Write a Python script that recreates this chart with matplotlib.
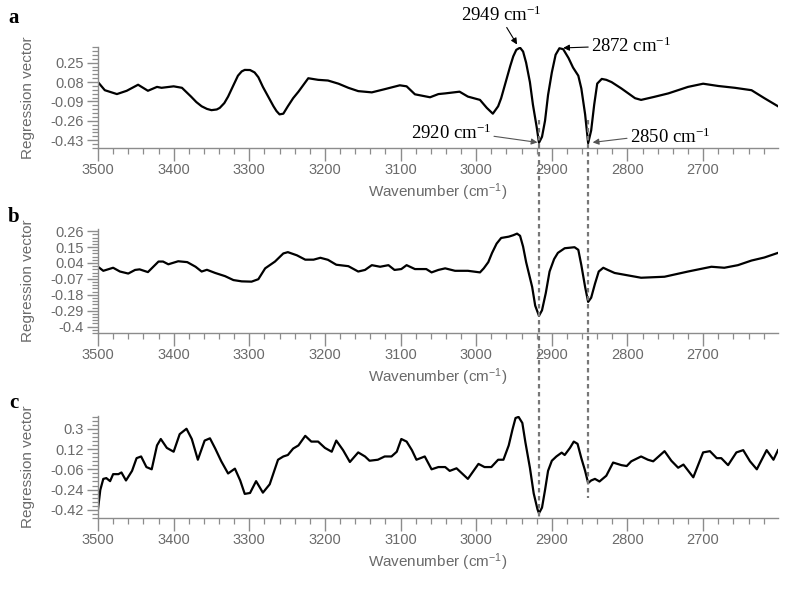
import numpy as np
import matplotlib
matplotlib.use('Agg')
import matplotlib.pyplot as plt
from matplotlib.lines import Line2D
from matplotlib.transforms import blended_transform_factory

plt.rcParams['font.family'] = ['Liberation Sans', 'DejaVu Sans']

# ---- data ----
wn_a = [3500, 3491, 3475, 3462, 3447, 3434, 3422, 3416, 3400, 3389, 3377, 3370, 3363, 3356,
        3350, 3343, 3339, 3333, 3328, 3321, 3315, 3310, 3306, 3299, 3293, 3288, 3282, 3275,
        3268, 3264, 3260, 3255, 3249, 3242, 3235, 3222, 3209, 3196, 3182,
        3169, 3156, 3138, 3121, 3101, 3092, 3081, 3061, 3050, 3041, 3022, 3011, 2995, 2986,
        2978, 2971, 2967, 2961, 2955, 2951, 2947, 2942, 2938, 2934, 2929, 2925, 2920, 2917,
        2913, 2909, 2905, 2900, 2895, 2890, 2885, 2878, 2872, 2865, 2861, 2856, 2852, 2848,
        2844, 2840, 2834, 2828, 2821, 2808, 2790, 2782, 2765, 2746, 2720, 2700, 2680, 2658,
        2636, 2619, 2601]
val_a = [0.08, 0.009, -0.025, 0.004, 0.057, 0.004, 0.038, 0.03, 0.043, 0.03, -0.047, -0.095,
         -0.132, -0.155, -0.166, -0.16, -0.146, -0.104, -0.047, 0.052, 0.136, 0.174, 0.187,
         0.186, 0.165, 0.123, 0.038, -0.047, -0.132, -0.174, -0.203, -0.197, -0.132, -0.061,
         -0.004, 0.114, 0.10, 0.094, 0.066, 0.03, 0.001, -0.01, 0.018, 0.052, 0.043, -0.027,
         -0.053, -0.025, -0.019, -0.004, -0.047, -0.076, -0.146, -0.197, -0.132, -0.061, 0.08,
         0.221, 0.306, 0.363, 0.382, 0.348, 0.25, 0.08, -0.118, -0.316, -0.452, -0.40, -0.259,
         -0.033, 0.165, 0.32, 0.377, 0.369, 0.292, 0.208, 0.136, 0.024, -0.203, -0.455, -0.344,
         -0.118, 0.067, 0.108, 0.10, 0.08, 0.024, -0.061, -0.076, -0.05, -0.019, 0.038, 0.066,
         0.046, 0.03, 0.009, -0.061, -0.132]

wn_b = [3500, 3493, 3480, 3471, 3460, 3451, 3445, 3434, 3420, 3414, 3407, 3394, 3382, 3371,
        3363, 3356, 3345, 3332, 3321, 3310, 3297, 3288, 3279, 3266, 3255, 3249, 3237, 3226,
        3215, 3206, 3196, 3185, 3169, 3156, 3147, 3138, 3127, 3116, 3108, 3099, 3092, 3081,
        3066, 3059, 3050, 3041, 3028, 3011, 2995, 2990, 2984, 2979, 2973, 2967, 2957, 2951,
        2946, 2942, 2938, 2934, 2926, 2922, 2917, 2913, 2908, 2903, 2897, 2892, 2883, 2870,
        2865, 2861, 2856, 2852, 2848, 2843, 2838, 2832, 2826, 2817, 2799, 2782, 2751, 2720,
        2689, 2672, 2654, 2636, 2619, 2601]
val_b = [0.014, -0.014, 0.007, -0.019, -0.033, -0.008, -0.004, -0.023, 0.05, 0.05, 0.031,
         0.052, 0.046, 0.014, -0.019, -0.007, -0.029, -0.051, -0.078, -0.087, -0.089, -0.072,
         0.003, 0.05, 0.106, 0.115, 0.093, 0.063, 0.063, 0.076, 0.062, 0.028, 0.018, -0.019,
         -0.008, 0.025, 0.014, 0.025, -0.008, -0.002, 0.025, -0.002, -0.002, -0.025, -0.008,
         0.003, -0.014, -0.014, -0.025, 0.003, 0.046, 0.11, 0.174, 0.213, 0.222, 0.232, 0.243,
         0.228, 0.153, 0.046, -0.126, -0.255, -0.325, -0.287, -0.168, -0.019, 0.067, 0.11,
         0.142, 0.149, 0.131, 0.025, -0.126, -0.229, -0.2, -0.104, -0.019, 0.007, -0.008,
         -0.029, -0.046, -0.062, -0.055, -0.019, 0.014, 0.007, 0.025, 0.057, 0.078, 0.11]

wn_c = [3500, 3497, 3493, 3489, 3484, 3480, 3473, 3469, 3463, 3455, 3449, 3443, 3436, 3429,
        3422, 3417, 3409, 3400, 3392, 3383, 3376, 3368, 3359, 3352, 3345, 3337, 3328, 3319,
        3312, 3306, 3299, 3291, 3282, 3273, 3262, 3255, 3249, 3242, 3235, 3226, 3218, 3209,
        3200, 3191, 3185, 3176, 3167, 3156, 3147, 3141, 3130, 3121, 3112, 3105, 3099, 3092,
        3085, 3079, 3068, 3059, 3050, 3041, 3035, 3026, 3011, 2997, 2989, 2980, 2971, 2964,
        2957, 2952, 2948, 2944, 2939, 2935, 2929, 2924, 2919, 2917, 2913, 2909, 2905, 2900,
        2894, 2887, 2883, 2876, 2871, 2866, 2861, 2856, 2852, 2848, 2843, 2837, 2828, 2819,
        2808, 2801, 2795, 2782, 2773, 2766, 2751, 2742, 2733, 2726, 2713, 2700, 2691, 2682,
        2676, 2667, 2656, 2647, 2638, 2629, 2616, 2607, 2601]
val_c = [-0.414, -0.244, -0.145, -0.138, -0.165, -0.103, -0.103, -0.088, -0.159, -0.074,
         0.039, 0.054, -0.04, -0.06, 0.152, 0.209, 0.13, 0.096, 0.252, 0.3, 0.209, 0.025,
         0.195, 0.215, 0.124, 0.011, -0.097, -0.054, -0.159, -0.278, -0.27, -0.165, -0.267,
         -0.193, 0.025, 0.054, 0.067, 0.124, 0.152, 0.237, 0.186, 0.186, 0.13, 0.096, 0.195,
         0.11, 0.005, 0.09, 0.054, 0.016, 0.025, 0.054, 0.054, 0.096, 0.209, 0.186, 0.11,
         0.025, 0.054, -0.06, -0.04, -0.04, -0.074, -0.051, -0.145, -0.012, -0.04, -0.04,
         0.025, 0.025, 0.152, 0.294, 0.395, 0.405, 0.351, 0.181, -0.046, -0.273, -0.414,
         -0.45, -0.40, -0.244, -0.074, 0.016, 0.054, 0.088, 0.067, 0.13, 0.186, 0.166, 0.039,
         -0.074, -0.182, -0.159, -0.145, -0.168, -0.117, 0.0, -0.023, -0.031, 0.011, 0.054,
         0.025, 0.011, 0.101, 0.016, -0.046, -0.018, -0.131, 0.09, 0.101, 0.039, 0.039, -0.023,
         0.09, 0.11, 0.011, -0.06, 0.11, 0.025, 0.11]

yt_a = [-0.43, -0.26, -0.09, 0.08, 0.25]
yt_b = [-0.4, -0.29, -0.18, -0.07, 0.04, 0.15, 0.26]
yt_c = [-0.42, -0.24, -0.06, 0.12, 0.3]
xt = [3500, 3400, 3300, 3200, 3100, 3000, 2900, 2800, 2700]
dash_x = [2917, 2852]

grey = '#8c8c8c'
lab = '#6a6a6a'

fig = plt.figure(figsize=(7.87, 5.89), dpi=100)
W, H = 787.0, 589.0

def panel(top, bottom, wn, val, yt, step, ylim, letter, letter_y):
    ax = fig.add_axes([98 / W, 1 - bottom / H, 680 / W, (bottom - top) / H])
    ax.plot(wn, val, color='black', lw=1.6, solid_joinstyle='round')
    ax.set_xlim(3500, 2601)
    ax.set_ylim(*ylim)
    for s in ['top', 'right']:
        ax.spines[s].set_visible(False)
    for s in ['left', 'bottom']:
        ax.spines[s].set_color(grey)
        ax.spines[s].set_linewidth(1.0)
    ax.set_xticks(xt)
    ax.set_xticks(np.arange(3500, 2600, -20), minor=True)
    ax.set_yticks(yt)
    ax.set_yticklabels([('%g' % v) for v in yt])
    ax.set_yticks(np.arange(yt[0] - step / 5 * 2, ylim[1], step / 5), minor=True)
    ax.tick_params(axis='both', which='major', direction='out', color=grey,
                   labelcolor=lab, labelsize=10.5, width=1.0)
    ax.tick_params(axis='x', which='major', length=9, pad=2)
    ax.tick_params(axis='y', which='major', length=8, pad=2)
    ax.tick_params(axis='both', which='minor', direction='out', color=grey,
                   length=4.5, width=0.9)
    ax.set_xlabel('Wavenumber (cm$\\mathregular{^{-1}}$)', color=lab, fontsize=11, labelpad=3)
    ax.set_ylabel('Regression vector', color=lab, fontsize=11, labelpad=3)
    ax.yaxis.set_label_coords(-0.092, 0.5)
    fig.text(14 / W, 1 - letter_y / H, letter, family='Liberation Serif',
             fontweight='bold', fontsize=15, ha='center', va='baseline')
    return ax

ax_a = panel(47, 148, wn_a, val_a, yt_a, 0.17, (-0.468, 0.388), 'a', 23)
ax_b = panel(229, 333, wn_b, val_b, yt_b, 0.11, (-0.397, 0.275), 'b', 222)
ax_c = panel(416, 518, wn_c, val_c, yt_c, 0.18, (-0.457, 0.413), 'c', 408)

# dashed guide lines through all panels
tr = blended_transform_factory(ax_a.transData, fig.transFigure)
fig.add_artist(Line2D([dash_x[0], dash_x[0]], [1 - 120 / H, 1 - 518 / H], transform=tr,
                      color='#777777', lw=1.6, ls=(0, (2, 1.6))))
fig.add_artist(Line2D([dash_x[1], dash_x[1]], [1 - 120 / H, 1 - 498 / H], transform=tr,
                      color='#777777', lw=1.6, ls=(0, (2, 1.6))))

# peak annotations
serif = 'Liberation Serif'
arr = dict(arrowstyle='-|>', color='black', lw=0.8, mutation_scale=9, shrinkA=0, shrinkB=0)
arr2 = dict(arrowstyle='-|>', color='#555555', lw=0.8, mutation_scale=9, shrinkA=0, shrinkB=0)
ax_a.annotate('2949 cm$\\mathregular{^{-1}}$', xy=(2946, 0.41), xytext=(501, H - 15),
              textcoords='figure pixels', ha='center', va='center', family=serif,
              fontsize=13.5, arrowprops=dict(arr, relpos=(0.55, 0.0)), annotation_clip=False)
ax_a.annotate('2872 cm$\\mathregular{^{-1}}$', xy=(2885, 0.38), xytext=(631, H - 46),
              textcoords='figure pixels', ha='center', va='center', family=serif,
              fontsize=13.5, arrowprops=dict(arr, relpos=(0.0, 0.45)), annotation_clip=False)
ax_a.annotate('2920 cm$\\mathregular{^{-1}}$', xy=(2919, -0.449), xytext=(451, H - 133),
              textcoords='figure pixels', ha='center', va='center', family=serif,
              fontsize=13.5, arrowprops=dict(arr2, relpos=(1.0, 0.35)), annotation_clip=False)
ax_a.annotate('2850 cm$\\mathregular{^{-1}}$', xy=(2846, -0.449), xytext=(670, H - 137),
              textcoords='figure pixels', ha='center', va='center', family=serif,
              fontsize=13.5, arrowprops=dict(arr2, relpos=(0.0, 0.45)), annotation_clip=False)

fig.savefig('out.png', dpi=100)
